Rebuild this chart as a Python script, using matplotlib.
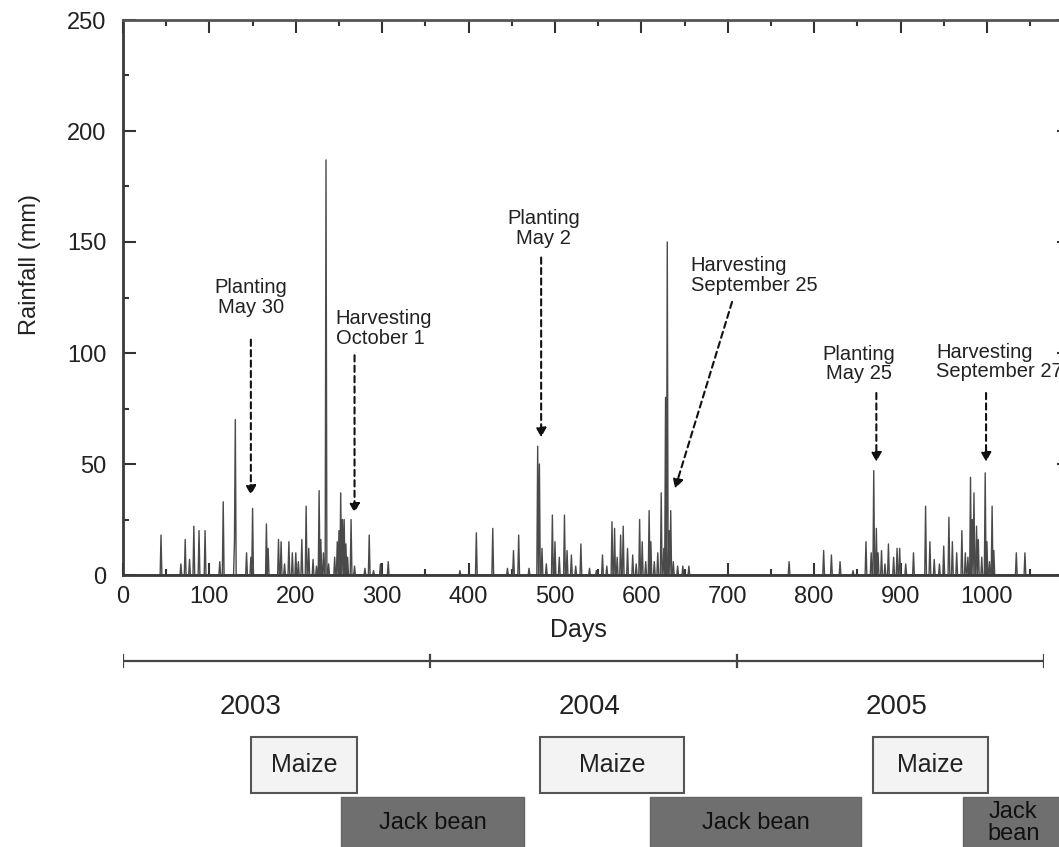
import numpy as np
import matplotlib.pyplot as plt
from matplotlib.patches import Rectangle
from matplotlib.ticker import MultipleLocator

plt.rcParams['font.family'] = ['Liberation Sans', 'DejaVu Sans']

# daily rainfall: day number from 1 Jan 2003 and rain on that day (mm)
rain_day = [44, 67, 72, 77, 82, 88, 95, 112, 116, 129, 130, 143, 148, 150, 166, 168,
            180, 183, 187, 192, 196, 200, 203, 207, 212, 215, 220, 224, 227, 229, 232,
            235, 238, 245, 248, 250, 252, 254, 256, 258, 260, 264, 268, 280, 285, 290,
            298, 307,
            390, 409, 428, 445, 452, 458, 470, 480, 482, 485, 490, 497, 500, 505, 511,
            514, 519, 524, 530, 540, 548, 555, 560, 566, 569, 572, 576, 579, 584, 590,
            594, 598, 601, 605, 609, 611, 615, 619, 623, 626, 628, 630, 632, 634, 637,
            642, 648, 655,
            771, 811, 820, 830, 845, 860, 866, 869, 872, 874, 878, 882, 886, 892, 896,
            899, 906, 915, 929, 934, 939, 945, 950, 956, 960, 965, 971, 975, 978, 981,
            983, 985, 988, 990, 994, 998, 1000, 1003, 1006, 1008, 1034, 1044]
rain_mm = [18, 5, 16, 7, 22, 20, 20, 6, 33, 15, 70, 10, 8, 30, 23, 12,
           16, 15, 5, 15, 10, 10, 6, 16, 31, 12, 7, 4, 38, 16, 10,
           187, 5, 8, 15, 20, 37, 25, 25, 14, 8, 25, 4, 3, 18, 2,
           5, 6,
           2, 19, 21, 3, 11, 18, 3, 58, 50, 12, 5, 27, 15, 8, 27,
           11, 9, 4, 14, 3, 2, 9, 4, 24, 21, 8, 18, 22, 12, 9,
           5, 25, 15, 6, 29, 15, 6, 10, 37, 12, 80, 150, 20, 29, 6,
           4, 4, 4,
           6, 11, 9, 6, 2, 15, 10, 47, 21, 10, 11, 5, 14, 8, 12,
           12, 5, 10, 31, 15, 7, 5, 13, 26, 15, 10, 20, 10, 8, 44,
           25, 37, 22, 16, 8, 46, 15, 6, 31, 11, 10, 10]

n_days = 1095
days = np.arange(n_days)
rain = np.zeros(n_days)
rain[rain_day] = rain_mm

# crop calendar in years from start of 2003
years = ['2003', '2004', '2005']
maize_start = [0.417, 1.358, 2.443]
maize_end = [0.762, 1.827, 2.818]
bean_start = [0.710, 1.717, 2.736]
bean_end = [1.306, 2.404, 3.06]

W, H = 1059, 847
fig = plt.figure(figsize=(W / 100, H / 100), dpi=100)

# rainfall panel; right edge runs past the figure
ax = fig.add_axes([123 / W, (H - 575) / H, 946 / W, 555 / H])
ax.plot(days, rain, color='#4a4a4a', lw=1.0)
ax.set_xlim(0, n_days)
ax.set_ylim(0, 250)
ax.xaxis.set_major_locator(MultipleLocator(100))
ax.xaxis.set_minor_locator(MultipleLocator(50))
ax.yaxis.set_major_locator(MultipleLocator(50))
ax.yaxis.set_minor_locator(MultipleLocator(25))
ax.set_xticks(range(0, 1001, 100))
ax.tick_params(which='both', direction='in', top=True, right=True,
               colors='#333', labelcolor='#222', labelsize=17)
ax.tick_params(which='major', length=9, width=1.5)
ax.tick_params(which='minor', length=4.5, width=1.5)
ax.tick_params(axis='y', pad=12)
ax.tick_params(axis='x', pad=8)
for s in ax.spines.values():
    s.set_color('#3a3a3a')
    s.set_linewidth(2)
ax.spines['top'].set_color('#555')

ax.set_xlabel('Days', fontsize=18, color='#222')
ax.xaxis.set_label_coords((578 - 123) / 946, -(618 - 575) / 555)
ax.set_ylabel('Rainfall (mm)', fontsize=17, color='#222')
ax.yaxis.set_label_coords((30 - 123) / 946, (575 - 264) / 555)
ax.yaxis.label.set_verticalalignment('center')

arrow = dict(arrowstyle='-|>,head_length=0.55,head_width=0.3', color='#111',
             lw=1.5, linestyle=(0, (3, 2)), shrinkA=0, shrinkB=0)
notes = [
    ('Planting\nMay 30', (148, 125), 'center', (148, 106), (148, 36)),
    ('Harvesting\nOctober 1', (246, 111), 'left', (268, 99), (268, 28)),
    ('Planting\nMay 2', (487, 156), 'center', (484, 143), (484, 62)),
    ('Harvesting\nSeptember 25', (657, 135), 'left', (705, 123), (639, 39)),
    ('Planting\nMay 25', (852, 95), 'center', (872, 82), (872, 51)),
    ('Harvesting\nSeptember 27', (941, 96), 'left', (999, 82), (999, 51)),
]
for txt, xy, ha, a0, a1 in notes:
    ax.text(xy[0], xy[1], txt, ha=ha, va='center', multialignment=ha,
            fontsize=14.5, color='#222', linespacing=1.05)
    ax.annotate('', xy=a1, xytext=a0, arrowprops=arrow)

# timeline and crop boxes underneath
axt = fig.add_axes([123 / W, 0, 921 / W, 215 / H])
axt.set_xlim(0, 3)
axt.set_ylim(0, 215)
axt.axis('off')
axt.plot([0, 3], [186, 186], color='#444', lw=1.6)
for x in range(4):
    axt.plot([x, x], [180, 192], color='#444', lw=1.6)
for x, y in zip([0.414, 1.52, 2.52], years):
    axt.text(x, 140, y, ha='center', va='center', fontsize=20, color='#222')

for x0, x1 in zip(maize_start, maize_end):
    axt.add_patch(Rectangle((x0, 54), x1 - x0, 56, facecolor='#f3f3f3',
                            edgecolor='#555', lw=1.5, clip_on=False))
    axt.text((x0 + x1) / 2, 82, 'Maize', ha='center', va='center',
             fontsize=18, color='#222')
for i, (x0, x1) in enumerate(zip(bean_start, bean_end)):
    axt.add_patch(Rectangle((x0, -8), x1 - x0, 58, facecolor='#6f6f6f',
                            edgecolor='#666', lw=1, clip_on=False))
    label = 'Jack bean' if i < 2 else 'Jack\nbean'
    axt.text((x0 + x1) / 2 if i < 2 else 2.9, 24, label, ha='center', va='center',
             fontsize=17, color='#111', linespacing=0.95, clip_on=False)

fig.savefig('out.png', dpi=100, facecolor='white')
